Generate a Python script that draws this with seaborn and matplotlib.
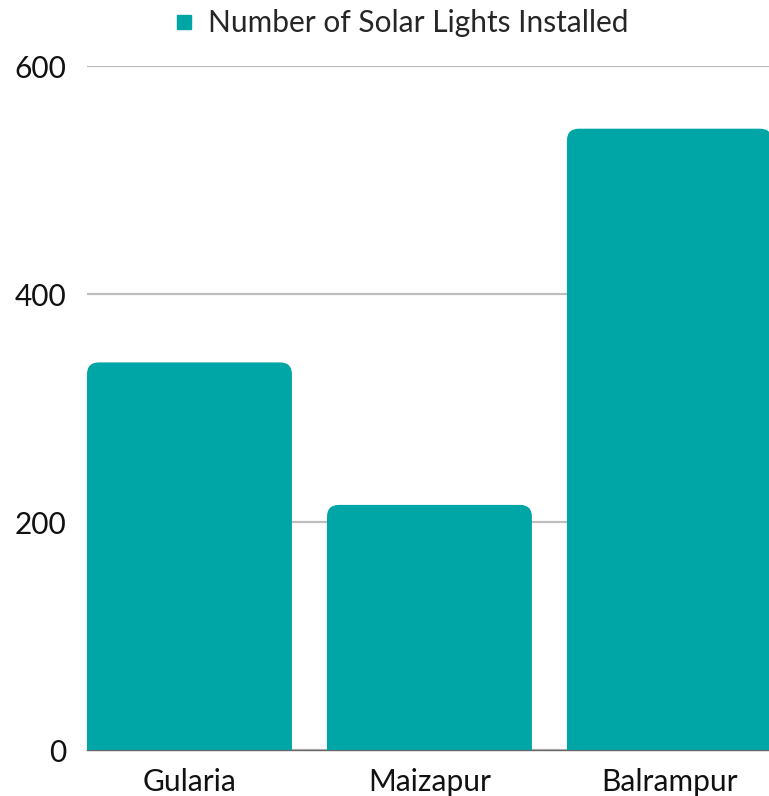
import matplotlib
matplotlib.use("Agg")
import matplotlib.pyplot as plt
import seaborn as sns
import pandas as pd
from matplotlib.patches import FancyBboxPatch
from matplotlib.lines import Line2D

# data
sites = ["Gularia", "Maizapur", "Balrampur"]
lights = [340, 215, 545]
series_name = "Number of Solar Lights Installed"
yticks = [0, 200, 400, 600]

teal = "#00A6A6"

sns.set_theme(style="white")
plt.rcParams['font.family'] = ['Lato', 'DejaVu Sans']

df = pd.DataFrame({"site": sites, "lights": lights})

fig = plt.figure(figsize=(7.69, 7.96), dpi=100)
ax = fig.add_axes([87/769, 1 - 750/796, 1 - 87/769, (750 - 66)/796])

sns.barplot(data=df, x="site", y="lights", color=teal, width=0.854,
            saturation=1, ax=ax, zorder=3)
ax.set_xlim(-0.427, 2.415)
ax.set_ylim(0, 600)

# swap the square bars for ones with rounded top corners
for p in list(ax.patches):
    x, w, h = p.get_x(), p.get_width(), p.get_height()
    p.remove()
    ax.add_patch(FancyBboxPatch((x, -30), w, h + 30,
                                boxstyle="round,pad=0,rounding_size=0.05",
                                mutation_aspect=210, fc=teal, ec="none",
                                zorder=3))

ax.set_yticks(yticks)
ax.yaxis.grid(True, color="#BDBDBD", linewidth=1.6, zorder=0)
ax.xaxis.grid(False)
for s in ["top", "right", "left"]:
    ax.spines[s].set_visible(False)
ax.spines["bottom"].set_color("#666666")
ax.spines["bottom"].set_linewidth(1)
ax.spines["bottom"].set_zorder(1)
ax.tick_params(axis="both", length=0, labelsize=21.5, colors="#111111")
ax.tick_params(axis="y", pad=15)
ax.tick_params(axis="x", pad=13)
for t in ax.get_yticklabels():
    t.set_clip_on(False)
ax.set_xlabel("")
ax.set_ylabel("")

handle = Line2D([], [], marker="s", color="none", markerfacecolor=teal,
                markeredgecolor=teal, markersize=10)
fig.legend([handle], [series_name], loc="center",
           bbox_to_anchor=(399/769, 1 - 23/796), frameon=False,
           fontsize=21.5, handletextpad=0.3, handlelength=1.0)

fig.savefig("out.png", dpi=100)
